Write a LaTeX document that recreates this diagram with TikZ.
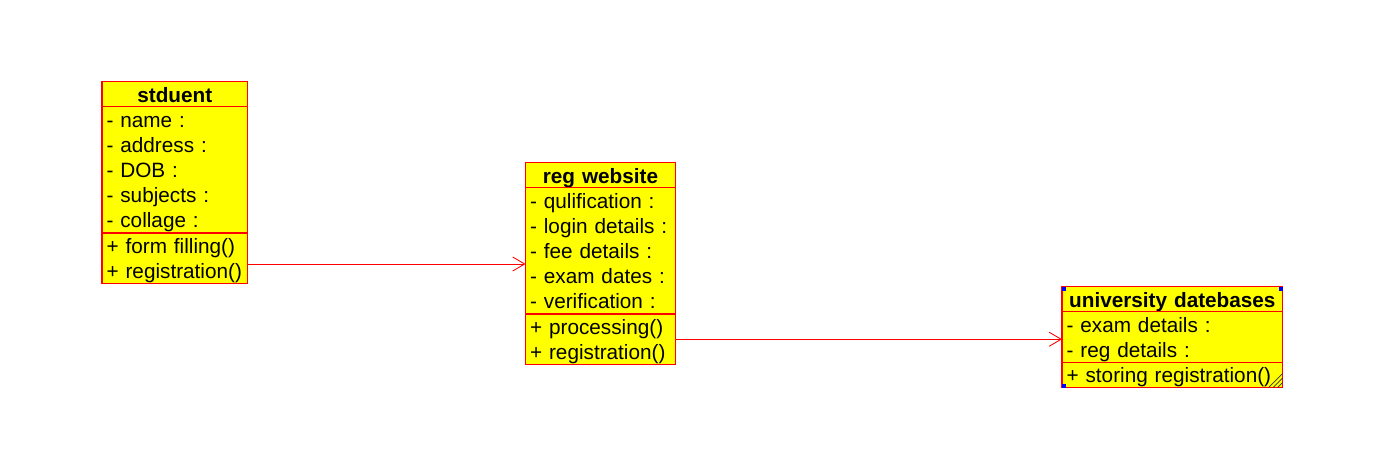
\documentclass[tikz,border=0pt]{standalone}
\usepackage{fontspec}
\setmainfont{Liberation Sans}
\usetikzlibrary{positioning,arrows.meta}
\definecolor{umlYellow}{rgb}{1,1,0}
\definecolor{umlRed}{rgb}{1,0,0}
\definecolor{gripBlue}{rgb}{0,0,1}

\begin{document}
\begin{tikzpicture}[
        every node/.style={font=\fontsize{11.8}{14.2}\selectfont},
        classPart/.style={draw=umlRed, fill=umlYellow, line width=0.6pt, outer sep=0pt,
            inner xsep=2.6pt, inner ysep=0pt, text width=#1, align=left,
            text height=11.6pt, text depth=2.6pt},
        classTitle/.style={classPart=#1, align=center, minimum height=0.505cm,
            font=\fontsize{11.8}{14.2}\selectfont\bfseries},
        twoRows/.style={minimum height=1.01cm, text depth=16.8pt},
        fiveRows/.style={minimum height=2.525cm, text depth=59.4pt},
        assocLine/.style={-{Straight Barb[length=6.8pt,width=8pt]}, umlRed, line width=0.5pt},
        selHandle/.style={fill=gripBlue},
        gripLine/.style={black!80, line width=0.4pt}
    ]
        \useasboundingbox (0,0) rectangle (27.94,-9.5);

        % student class
        \node[classTitle=77.6pt, anchor=north west] (stdTitle) at (2.04,-1.63) {stduent};
        \node[classPart=77.6pt, fiveRows, below=0pt of stdTitle] (stdAttr)
            {- name :\\- address :\\- DOB :\\- subjects :\\- collage :};
        \node[classPart=77.6pt, twoRows, below=0pt of stdAttr] (stdMeth)
            {+ form filling()\\+ registration()};

        % registration website class
        \node[classTitle=80.1pt, anchor=north west] (regTitle) at (10.51,-3.25) {reg website};
        \node[classPart=80.1pt, fiveRows, below=0pt of regTitle] (regAttr)
            {- qulification :\\- login details :\\- fee details :\\- exam dates :\\- verification :};
        \node[classPart=80.1pt, twoRows, below=0pt of regAttr] (regMeth)
            {+ processing()\\+ registration()};

        % university database class
        \node[classTitle=120.4pt, anchor=north west] (uniTitle) at (21.24,-5.73) {university datebases};
        \node[classPart=120.4pt, twoRows, below=0pt of uniTitle] (uniAttr)
            {- exam details :\\- reg details :};
        \node[classPart=120.4pt, minimum height=0.505cm, below=0pt of uniAttr] (uniMeth)
            {+ storing registration()};

        % associations
        \coordinate (linkA) at (0,-5.28);
        \draw[assocLine] (stdMeth.east |- linkA) -- (regAttr.west |- linkA);
        \draw[assocLine] (regMeth.east) -- (uniAttr.west |- regMeth.east);

        % selection handles and resize grip
        \fill[selHandle] (uniTitle.north west) rectangle ++(0.08,-0.08);
        \fill[selHandle] (uniTitle.north east) rectangle ++(-0.08,-0.08);
        \fill[selHandle] (uniMeth.south west) rectangle ++(0.08,0.08);
        \foreach \d in {0.1,0.19,0.28}
            \draw[gripLine] ([xshift=-\d cm]uniMeth.south east) -- ([yshift=\d cm]uniMeth.south east);

    \end{tikzpicture}
\end{document}
